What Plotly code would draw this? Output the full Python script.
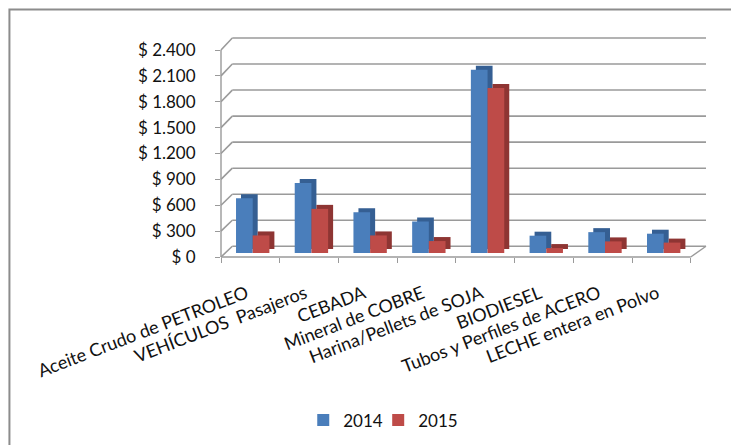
import plotly.graph_objects as go

categories = ["Aceite Crudo de PETROLEO", "VEHÍCULOS  Pasajeros", "CEBADA",
              "Mineral de COBRE", "Harina/Pellets de SOJA", "BIODIESEL",
              "Tubos y Perfiles de ACERO", "LECHE entera en Polvo"]
values_2014 = [632, 809, 471, 364, 2119, 200, 241, 223]
values_2015 = [203, 510, 203, 138, 1908, 57, 134, 120]
series_names = ["2014", "2015"]
tick_values = [0, 300, 600, 900, 1200, 1500, 1800, 2100, 2400]
tick_labels = ["$ 0", "$ 300", "$ 600", "$ 900", "$ 1.200", "$ 1.500",
               "$ 1.800", "$ 2.100", "$ 2.400"]

W, H = 739, 445
OFF = 8.0  # page body margin offset
# plot area in (reference) pixels
L, R, T, B = 220.7, 706.0, 38.0, 256.7
cat_px = 58.75                      # pixels per category
s_front = (B - 50.0) / 2400.0       # front wall scale px/unit
s_bar = 0.0864                      # bar plane scale px/unit
bar_zero = 252.7                    # px of bar baseline
back_zero, back_top = 246.0, 38.0   # back wall
depth_dx, depth_dy = 5.0, 4.0       # 3D side of bars in px

def px(x):
    return (x - L) / (R - L)

def py(y):
    return (B - y) / (B - T)

x_max = 7.5 + (R - (L + 8 * cat_px)) / cat_px
y_top = (B - T) / s_front
y_bar_range = [(bar_zero - B) / s_bar, (bar_zero - T) / s_bar]

blue, blue_dark = "#4A7EBB", "#355F93"
red, red_dark = "#BE4B48", "#8E3533"
grid = "#9A9A9A"

bw = 16.7 / cat_px
off_blue = -14.35 / cat_px
off_red = off_blue + bw
ddx = depth_dx / cat_px
ddy = depth_dy / s_bar

fig = go.Figure()
fig.add_trace(go.Bar(x=categories, y=values_2014, base=ddy, offset=off_blue + ddx, width=bw,
                     marker=dict(color=blue_dark, line=dict(width=0)),
                     showlegend=False, hoverinfo="skip"))
fig.add_trace(go.Bar(x=categories, y=values_2014, offset=off_blue, width=bw, name=series_names[0],
                     marker=dict(color=blue, line=dict(width=0)), legend="legend"))
fig.add_trace(go.Bar(x=categories, y=values_2015, base=ddy, offset=off_red + ddx, width=bw,
                     marker=dict(color=red_dark, line=dict(width=0)),
                     showlegend=False, hoverinfo="skip"))
fig.add_trace(go.Bar(x=categories, y=values_2015, offset=off_red, width=bw, name=series_names[1],
                     marker=dict(color=red, line=dict(width=0)), legend="legend2"))
# invisible trace to anchor the labelled front axis
fig.add_trace(go.Scatter(x=[categories[0]], y=[0], yaxis="y2", mode="markers",
                         marker=dict(opacity=0), showlegend=False, hoverinfo="skip"))

shapes = []
back_s = (back_zero - back_top) / 2400.0
for v in tick_values:
    fy = B - v * s_front
    by = back_zero - v * back_s
    bx0 = L + 11.3
    shapes.append(dict(type="line", xref="paper", yref="paper", x0=px(bx0), x1=px(R),
                       y0=py(by), y1=py(by), line=dict(color=grid, width=1.6), layer="below"))
    shapes.append(dict(type="line", xref="paper", yref="paper", x0=px(L), x1=px(bx0),
                       y0=py(fy), y1=py(by), line=dict(color=grid, width=1.6), layer="below"))
shapes.append(dict(type="line", xref="paper", yref="paper", x0=0, x1=0,
                   y0=py(B), y1=py(B - 2400 * s_front), line=dict(color=grid, width=1.4)))
x_front_end = L + 8 * cat_px
shapes.append(dict(type="line", xref="paper", yref="paper", x0=0, x1=px(x_front_end),
                   y0=0, y1=0, line=dict(color=grid, width=1.4)))
shapes.append(dict(type="line", xref="paper", yref="paper", x0=px(x_front_end), x1=px(R),
                   y0=0, y1=py(back_zero), line=dict(color=grid, width=1.4)))
shapes.append(dict(type="rect", xref="paper", yref="paper", x0=px(9), x1=px(760),
                   y0=py(470), y1=py(9.5), line=dict(color="#8C8C8C", width=2)))

font_name = "Lato, Open Sans, sans-serif"
legend_common = dict(orientation="h", xanchor="left", y=py(420), yanchor="middle",
                     font=dict(size=17), bgcolor="rgba(0,0,0,0)")
fig.update_layout(
    width=W, height=H,
    margin=dict(l=L - OFF, r=W - (R - OFF), t=T - OFF, b=H - (B - OFF), pad=0),
    paper_bgcolor="white", plot_bgcolor="rgba(0,0,0,0)",
    barmode="overlay",
    font=dict(family=font_name, size=17, color="#111111"),
    xaxis=dict(type="category", range=[-0.5, x_max], showgrid=False, showline=False,
               zeroline=False, ticks="outside", ticklen=5, tickcolor=grid, tickwidth=1.4,
               tickson="boundaries", tickangle=-21, ticklabelstandoff=22,
               ticklabelshift=-4, tickfont=dict(size=18)),
    yaxis=dict(range=y_bar_range, showgrid=False, zeroline=False, showline=False,
               showticklabels=False, ticks=""),
    yaxis2=dict(range=[0, y_top], overlaying="y", side="left", tickvals=tick_values,
                ticktext=tick_labels, showgrid=False, zeroline=False, showline=False,
                ticks="outside", ticklen=5, tickcolor=grid, tickwidth=1.4,
                ticklabelstandoff=16, tickfont=dict(size=17)),
    shapes=shapes,
    legend=dict(x=px(303), **legend_common),
    legend2=dict(x=px(378), **legend_common),
)
fig.write_html("out.html")
